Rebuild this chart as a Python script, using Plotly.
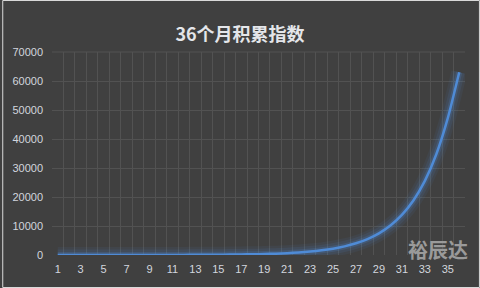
import plotly.graph_objects as go

months = list(range(1, 37))
index_values = [1.4, 1.9, 2.5, 3.4, 4.7, 6.3, 8.6, 11.7, 15.9, 21.7, 29.5, 40.1,
                54.5, 74.1, 101, 137, 186, 254, 345, 469, 638, 868, 1180, 1605,
                2180, 2970, 4040, 5490, 7470, 10160, 13810, 18790, 25550, 34750,
                47200, 63000]
x_tick_vals = list(range(1, 37, 2))
x_tick_text = [str(v) for v in x_tick_vals]
title_text = "36个月积累指数"
watermark_text = "裕辰达"

BG = "#404040"
GRID = "#525252"
LINE = "#4f8bd6"
LABEL = "#d2d6de"

W, H = 480, 288
ML, MR, MT, MB = 50, 15, 52, 33
PW, PH = W - ML - MR, H - MT - MB


def px_x(p):
    return (p - ML) / PW


def px_y(p):
    return (H - MB - p) / PH


fig = go.Figure()
# glow layers
for w, op in [(16, 0.07), (11, 0.11), (6, 0.2)]:
    fig.add_trace(go.Scatter(x=months, y=index_values, mode="lines",
                             line=dict(color=LINE, width=w, shape="spline", smoothing=0.6),
                             opacity=op, hoverinfo="skip", showlegend=False))
fig.add_trace(go.Scatter(x=months, y=index_values, mode="lines",
                         line=dict(color=LINE, width=2.5, shape="spline", smoothing=0.6),
                         showlegend=False))

fig.update_layout(
    width=W, height=H,
    margin=dict(l=ML, r=MR, t=MT, b=MB),
    paper_bgcolor=BG, plot_bgcolor=BG,
    title=dict(text=f"<b>{title_text}</b>", x=0.5, xanchor="center", y=1 - 35/H, yanchor="middle",
               font=dict(family="Noto Sans CJK SC", size=18, color="#e4e6ea")),
    font=dict(family="Liberation Sans", size=11, color=LABEL),
    xaxis=dict(range=[0.5, 36.5], tickvals=x_tick_vals, ticktext=x_tick_text,
               showgrid=False, zeroline=False, showline=False, ticks="",
               ticklabelstandoff=6,
               tickfont=dict(family="Liberation Sans", size=11, color=LABEL),
               minor=dict(tickvals=[i + 0.5 for i in range(0, 37)], showgrid=True,
                          gridcolor=GRID, gridwidth=1, ticks=""),
               fixedrange=True),
    yaxis=dict(range=[0, 70000], dtick=10000, showgrid=True, gridcolor=GRID, gridwidth=1,
               zeroline=False, showline=False, ticks="", ticklabelstandoff=8,
               tickformat="d",
               tickfont=dict(family="Liberation Sans", size=11, color=LABEL),
               fixedrange=True),
    shapes=[dict(type="line", xref="paper", yref="paper", x0=0, x1=1, y0=1, y1=1,
                 line=dict(color=GRID, width=1)),
            dict(type="rect", xref="paper", yref="paper",
                 x0=px_x(0.5), x1=px_x(W - 0.5), y0=px_y(H - 0.5), y1=px_y(0.5),
                 line=dict(color="#d9d9d9", width=1), fillcolor="rgba(0,0,0,0)")],
    annotations=[dict(text=f"<b>{watermark_text}</b>", xref="paper", yref="paper",
                      x=px_x(438), y=px_y(249), xanchor="center",
                      yanchor="middle", showarrow=False,
                      font=dict(family="Noto Sans CJK SC", size=20, color="#9a9a9a"))],
)

fig.write_html("out.html", config={"displayModeBar": False})
